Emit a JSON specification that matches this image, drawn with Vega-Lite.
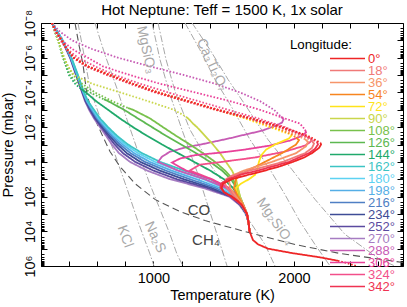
{
"$schema":"https://vega.github.io/schema/vega-lite/v6.json",
"width":362,"height":243,"autosize":"none",
"padding":{"left":41,"top":23,"right":4,"bottom":41},
"background":"white",
"title":{"text":"Hot Neptune: Teff = 1500 K, 1x solar","fontSize":15,"fontWeight":"normal","font":"Liberation Sans","anchor":"middle","offset":-9,"color":"black"},
"config":{"font":"Liberation Sans","view":{"stroke":"black","strokeWidth":1}},
"datasets":{
"prof":[
{"lon":"270°","k":"b","T":278,"P":1e-8},{"lon":"270°","k":"b","T":349,"P":1e-7},{"lon":"270°","k":"b","T":406,"P":1e-6},{"lon":"270°","k":"b","T":449,"P":1e-5},{"lon":"270°","k":"b","T":492,"P":1e-4},{"lon":"270°","k":"b","T":513,"P":3.16e-4},{"lon":"270°","k":"b","T":542,"P":1e-3},{"lon":"270°","k":"b","T":577,"P":3.16e-3},{"lon":"270°","k":"b","T":620,"P":0.01},{"lon":"270°","k":"b","T":663,"P":0.0316},{"lon":"270°","k":"b","T":705,"P":0.1},{"lon":"270°","k":"b","T":755,"P":0.316},{"lon":"270°","k":"b","T":833,"P":1},{"lon":"270°","k":"b","T":954,"P":3.16},{"lon":"270°","k":"b","T":1118,"P":10},{"lon":"270°","k":"b","T":1353,"P":31.6},{"lon":"270°","k":"b","T":1538,"P":100},{"lon":"270°","k":"b","T":1616,"P":316},{"lon":"270°","k":"b","T":1659,"P":1000},{"lon":"270°","k":"b","T":1677,"P":3160},{"lon":"270°","k":"b","T":1684,"P":10000},
{"lon":"252°","k":"b","T":278,"P":1e-8},{"lon":"252°","k":"b","T":351,"P":1e-7},{"lon":"252°","k":"b","T":409,"P":1e-6},{"lon":"252°","k":"b","T":451,"P":1e-5},{"lon":"252°","k":"b","T":494,"P":1e-4},{"lon":"252°","k":"b","T":517,"P":3.16e-4},{"lon":"252°","k":"b","T":548,"P":1e-3},{"lon":"252°","k":"b","T":584,"P":3.16e-3},{"lon":"252°","k":"b","T":630,"P":0.01},{"lon":"252°","k":"b","T":676,"P":0.0316},{"lon":"252°","k":"b","T":724,"P":0.1},{"lon":"252°","k":"b","T":783,"P":0.316},{"lon":"252°","k":"b","T":870,"P":1},{"lon":"252°","k":"b","T":999,"P":3.16},{"lon":"252°","k":"b","T":1166,"P":10},{"lon":"252°","k":"b","T":1383,"P":31.6},{"lon":"252°","k":"b","T":1549,"P":100},{"lon":"252°","k":"b","T":1620,"P":316},{"lon":"252°","k":"b","T":1660,"P":1000},{"lon":"252°","k":"b","T":1677,"P":3160},{"lon":"252°","k":"b","T":1684,"P":10000},
{"lon":"234°","k":"b","T":278,"P":1e-8},{"lon":"234°","k":"b","T":352,"P":1e-7},{"lon":"234°","k":"b","T":410,"P":1e-6},{"lon":"234°","k":"b","T":454,"P":1e-5},{"lon":"234°","k":"b","T":497,"P":1e-4},{"lon":"234°","k":"b","T":520,"P":3.16e-4},{"lon":"234°","k":"b","T":554,"P":1e-3},{"lon":"234°","k":"b","T":591,"P":3.16e-3},{"lon":"234°","k":"b","T":639,"P":0.01},{"lon":"234°","k":"b","T":689,"P":0.0316},{"lon":"234°","k":"b","T":744,"P":0.1},{"lon":"234°","k":"b","T":811,"P":0.316},{"lon":"234°","k":"b","T":906,"P":1},{"lon":"234°","k":"b","T":1044,"P":3.16},{"lon":"234°","k":"b","T":1215,"P":10},{"lon":"234°","k":"b","T":1413,"P":31.6},{"lon":"234°","k":"b","T":1560,"P":100},{"lon":"234°","k":"b","T":1623,"P":316},{"lon":"234°","k":"b","T":1661,"P":1000},{"lon":"234°","k":"b","T":1677,"P":3160},{"lon":"234°","k":"b","T":1684,"P":10000},
{"lon":"216°","k":"b","T":278,"P":1e-8},{"lon":"216°","k":"b","T":353,"P":1e-7},{"lon":"216°","k":"b","T":412,"P":1e-6},{"lon":"216°","k":"b","T":456,"P":1e-5},{"lon":"216°","k":"b","T":499,"P":1e-4},{"lon":"216°","k":"b","T":524,"P":3.16e-4},{"lon":"216°","k":"b","T":559,"P":1e-3},{"lon":"216°","k":"b","T":598,"P":3.16e-3},{"lon":"216°","k":"b","T":648,"P":0.01},{"lon":"216°","k":"b","T":702,"P":0.0316},{"lon":"216°","k":"b","T":762,"P":0.1},{"lon":"216°","k":"b","T":837,"P":0.316},{"lon":"216°","k":"b","T":940,"P":1},{"lon":"216°","k":"b","T":1086,"P":3.16},{"lon":"216°","k":"b","T":1260,"P":10},{"lon":"216°","k":"b","T":1442,"P":31.6},{"lon":"216°","k":"b","T":1570,"P":100},{"lon":"216°","k":"b","T":1627,"P":316},{"lon":"216°","k":"b","T":1662,"P":1000},{"lon":"216°","k":"b","T":1677,"P":3160},{"lon":"216°","k":"b","T":1684,"P":10000},
{"lon":"198°","k":"b","T":278,"P":1e-8},{"lon":"198°","k":"b","T":354,"P":1e-7},{"lon":"198°","k":"b","T":413,"P":1e-6},{"lon":"198°","k":"b","T":458,"P":1e-5},{"lon":"198°","k":"b","T":501,"P":1e-4},{"lon":"198°","k":"b","T":527,"P":3.16e-4},{"lon":"198°","k":"b","T":565,"P":1e-3},{"lon":"198°","k":"b","T":606,"P":3.16e-3},{"lon":"198°","k":"b","T":658,"P":0.01},{"lon":"198°","k":"b","T":714,"P":0.0316},{"lon":"198°","k":"b","T":781,"P":0.1},{"lon":"198°","k":"b","T":863,"P":0.316},{"lon":"198°","k":"b","T":974,"P":1},{"lon":"198°","k":"b","T":1128,"P":3.16},{"lon":"198°","k":"b","T":1306,"P":10},{"lon":"198°","k":"b","T":1470,"P":31.6},{"lon":"198°","k":"b","T":1580,"P":100},{"lon":"198°","k":"b","T":1630,"P":316},{"lon":"198°","k":"b","T":1664,"P":1000},{"lon":"198°","k":"b","T":1677,"P":3160},{"lon":"198°","k":"b","T":1684,"P":10000},
{"lon":"180°","k":"a","T":278,"P":1e-8},{"lon":"180°","k":"a","T":355,"P":1e-7},{"lon":"180°","k":"a","T":415,"P":1e-6},
{"lon":"180°","k":"b","T":415,"P":1e-6},{"lon":"180°","k":"b","T":461,"P":1e-5},{"lon":"180°","k":"b","T":504,"P":1e-4},{"lon":"180°","k":"b","T":531,"P":3.16e-4},{"lon":"180°","k":"b","T":571,"P":1e-3},{"lon":"180°","k":"b","T":613,"P":3.16e-3},{"lon":"180°","k":"b","T":667,"P":0.01},{"lon":"180°","k":"b","T":727,"P":0.0316},{"lon":"180°","k":"b","T":800,"P":0.1},{"lon":"180°","k":"b","T":891,"P":0.316},{"lon":"180°","k":"b","T":1011,"P":1},{"lon":"180°","k":"b","T":1173,"P":3.16},{"lon":"180°","k":"b","T":1354,"P":10},{"lon":"180°","k":"b","T":1501,"P":31.6},{"lon":"180°","k":"b","T":1591,"P":100},{"lon":"180°","k":"b","T":1634,"P":316},{"lon":"180°","k":"b","T":1664,"P":1000},{"lon":"180°","k":"b","T":1677,"P":3160},{"lon":"180°","k":"b","T":1684,"P":10000},
{"lon":"162°","k":"a","T":278,"P":1e-8},{"lon":"162°","k":"a","T":357,"P":1e-7},{"lon":"162°","k":"a","T":417,"P":1e-6},
{"lon":"162°","k":"b","T":417,"P":1e-6},{"lon":"162°","k":"b","T":463,"P":1e-5},{"lon":"162°","k":"b","T":506,"P":1e-4},{"lon":"162°","k":"b","T":534,"P":3.16e-4},{"lon":"162°","k":"b","T":577,"P":1e-3},{"lon":"162°","k":"b","T":620,"P":3.16e-3},{"lon":"162°","k":"b","T":677,"P":0.01},{"lon":"162°","k":"b","T":741,"P":0.0316},{"lon":"162°","k":"b","T":819,"P":0.1},{"lon":"162°","k":"b","T":919,"P":0.316},{"lon":"162°","k":"b","T":1047,"P":1},{"lon":"162°","k":"b","T":1218,"P":3.16},{"lon":"162°","k":"b","T":1403,"P":10},{"lon":"162°","k":"b","T":1531,"P":31.6},{"lon":"162°","k":"b","T":1602,"P":100},{"lon":"162°","k":"b","T":1637,"P":316},{"lon":"162°","k":"b","T":1666,"P":1000},{"lon":"162°","k":"b","T":1677,"P":3160},{"lon":"162°","k":"b","T":1684,"P":10000},
{"lon":"288°","k":"a","T":278,"P":1e-8},{"lon":"288°","k":"a","T":335,"P":3.16e-8},{"lon":"288°","k":"a","T":421,"P":1e-7},{"lon":"288°","k":"a","T":563,"P":3.16e-7},{"lon":"288°","k":"a","T":748,"P":1e-6},{"lon":"288°","k":"a","T":976,"P":3.16e-6},{"lon":"288°","k":"a","T":1218,"P":1e-5},{"lon":"288°","k":"a","T":1438,"P":3.16e-5},{"lon":"288°","k":"a","T":1616,"P":1e-4},{"lon":"288°","k":"a","T":1758,"P":3.16e-4},{"lon":"288°","k":"a","T":1858,"P":1e-3},{"lon":"288°","k":"a","T":1908,"P":2.5e-3},
{"lon":"288°","k":"b","T":1908,"P":2.5e-3},{"lon":"288°","k":"b","T":1926,"P":3.5e-3},{"lon":"288°","k":"b","T":1915,"P":5.5e-3},{"lon":"288°","k":"b","T":1872,"P":8.1e-3},{"lon":"288°","k":"b","T":1773,"P":0.016},{"lon":"288°","k":"b","T":1652,"P":0.027},{"lon":"288°","k":"b","T":1531,"P":0.046},{"lon":"288°","k":"b","T":1367,"P":0.089},{"lon":"288°","k":"b","T":1225,"P":0.15},{"lon":"288°","k":"b","T":1118,"P":0.26},{"lon":"288°","k":"b","T":1061,"P":0.5},{"lon":"288°","k":"b","T":1033,"P":1},{"lon":"288°","k":"b","T":1175,"P":3.16},{"lon":"288°","k":"b","T":1367,"P":10},{"lon":"288°","k":"b","T":1516,"P":31.6},{"lon":"288°","k":"b","T":1595,"P":100},{"lon":"288°","k":"b","T":1637,"P":316},{"lon":"288°","k":"b","T":1666,"P":1000},{"lon":"288°","k":"b","T":1677,"P":3160},{"lon":"288°","k":"b","T":1684,"P":10000},
{"lon":"144°","k":"a","T":278,"P":1e-8},{"lon":"144°","k":"a","T":321,"P":1e-7},{"lon":"144°","k":"a","T":357,"P":1e-6},{"lon":"144°","k":"a","T":399,"P":1e-5},{"lon":"144°","k":"a","T":442,"P":3.16e-5},{"lon":"144°","k":"a","T":485,"P":6.3e-5},
{"lon":"144°","k":"b","T":485,"P":6.3e-5},{"lon":"144°","k":"b","T":520,"P":1e-4},{"lon":"144°","k":"b","T":591,"P":3.16e-4},{"lon":"144°","k":"b","T":677,"P":1e-3},{"lon":"144°","k":"b","T":762,"P":3.16e-3},{"lon":"144°","k":"b","T":855,"P":0.01},{"lon":"144°","k":"b","T":954,"P":0.0316},{"lon":"144°","k":"b","T":1061,"P":0.1},{"lon":"144°","k":"b","T":1175,"P":0.316},{"lon":"144°","k":"b","T":1289,"P":1},{"lon":"144°","k":"b","T":1403,"P":3.16},{"lon":"144°","k":"b","T":1502,"P":10},{"lon":"144°","k":"b","T":1566,"P":31.6},{"lon":"144°","k":"b","T":1605,"P":100},{"lon":"144°","k":"b","T":1637,"P":316},{"lon":"144°","k":"b","T":1666,"P":1000},{"lon":"144°","k":"b","T":1677,"P":3160},{"lon":"144°","k":"b","T":1684,"P":10000},
{"lon":"126°","k":"a","T":278,"P":1e-8},{"lon":"126°","k":"a","T":321,"P":1e-7},{"lon":"126°","k":"a","T":357,"P":1e-6},{"lon":"126°","k":"a","T":406,"P":1e-5},{"lon":"126°","k":"a","T":463,"P":3.16e-5},{"lon":"126°","k":"a","T":549,"P":1e-4},{"lon":"126°","k":"a","T":648,"P":2.5e-4},
{"lon":"126°","k":"b","T":648,"P":2.5e-4},{"lon":"126°","k":"b","T":677,"P":3.16e-4},{"lon":"126°","k":"b","T":791,"P":1e-3},{"lon":"126°","k":"b","T":890,"P":3.16e-3},{"lon":"126°","k":"b","T":990,"P":0.01},{"lon":"126°","k":"b","T":1090,"P":0.0316},{"lon":"126°","k":"b","T":1196,"P":0.1},{"lon":"126°","k":"b","T":1303,"P":0.316},{"lon":"126°","k":"b","T":1403,"P":1},{"lon":"126°","k":"b","T":1488,"P":3.16},{"lon":"126°","k":"b","T":1552,"P":10},{"lon":"126°","k":"b","T":1591,"P":31.6},{"lon":"126°","k":"b","T":1612,"P":100},{"lon":"126°","k":"b","T":1641,"P":316},{"lon":"126°","k":"b","T":1666,"P":1000},{"lon":"126°","k":"b","T":1677,"P":3160},{"lon":"126°","k":"b","T":1684,"P":10000},
{"lon":"108°","k":"a","T":278,"P":1e-8},{"lon":"108°","k":"a","T":300,"P":3.16e-8},{"lon":"108°","k":"a","T":321,"P":1e-7},{"lon":"108°","k":"a","T":342,"P":3.16e-7},{"lon":"108°","k":"a","T":364,"P":1e-6},{"lon":"108°","k":"a","T":392,"P":3.16e-6},{"lon":"108°","k":"a","T":428,"P":1e-5},{"lon":"108°","k":"a","T":492,"P":3.16e-5},{"lon":"108°","k":"a","T":584,"P":1e-4},{"lon":"108°","k":"a","T":705,"P":3.16e-4},{"lon":"108°","k":"a","T":819,"P":7.9e-4},
{"lon":"108°","k":"b","T":819,"P":7.9e-4},{"lon":"108°","k":"b","T":855,"P":1e-3},{"lon":"108°","k":"b","T":905,"P":1.6e-3},{"lon":"108°","k":"b","T":976,"P":3.16e-3},{"lon":"108°","k":"b","T":1068,"P":0.01},{"lon":"108°","k":"b","T":1161,"P":0.0316},{"lon":"108°","k":"b","T":1260,"P":0.1},{"lon":"108°","k":"b","T":1353,"P":0.316},{"lon":"108°","k":"b","T":1438,"P":1},{"lon":"108°","k":"b","T":1509,"P":3.16},{"lon":"108°","k":"b","T":1566,"P":10},{"lon":"108°","k":"b","T":1598,"P":31.6},{"lon":"108°","k":"b","T":1616,"P":100},{"lon":"108°","k":"b","T":1641,"P":316},{"lon":"108°","k":"b","T":1666,"P":1000},{"lon":"108°","k":"b","T":1677,"P":3160},{"lon":"108°","k":"b","T":1684,"P":10000},
{"lon":"90°","k":"a","T":278,"P":1e-8},{"lon":"90°","k":"a","T":321,"P":1e-7},{"lon":"90°","k":"a","T":364,"P":1e-6},{"lon":"90°","k":"a","T":392,"P":3.16e-6},{"lon":"90°","k":"a","T":435,"P":1e-5},{"lon":"90°","k":"a","T":563,"P":3.16e-5},{"lon":"90°","k":"a","T":762,"P":1e-4},{"lon":"90°","k":"a","T":961,"P":3.16e-4},{"lon":"90°","k":"a","T":1146,"P":1e-3},{"lon":"90°","k":"a","T":1232,"P":2.5e-3},
{"lon":"90°","k":"b","T":1232,"P":2.5e-3},{"lon":"90°","k":"b","T":1260,"P":4e-3},{"lon":"90°","k":"b","T":1282,"P":6.3e-3},{"lon":"90°","k":"b","T":1310,"P":0.01},{"lon":"90°","k":"b","T":1367,"P":0.0316},{"lon":"90°","k":"b","T":1424,"P":0.1},{"lon":"90°","k":"b","T":1474,"P":0.316},{"lon":"90°","k":"b","T":1516,"P":1},{"lon":"90°","k":"b","T":1559,"P":3.16},{"lon":"90°","k":"b","T":1588,"P":10},{"lon":"90°","k":"b","T":1602,"P":31.6},{"lon":"90°","k":"b","T":1616,"P":100},{"lon":"90°","k":"b","T":1641,"P":316},{"lon":"90°","k":"b","T":1666,"P":1000},{"lon":"90°","k":"b","T":1677,"P":3160},{"lon":"90°","k":"b","T":1684,"P":10000},
{"lon":"324°","k":"a","T":278,"P":1e-8},{"lon":"324°","k":"a","T":300,"P":3.16e-8},{"lon":"324°","k":"a","T":335,"P":1e-7},{"lon":"324°","k":"a","T":385,"P":3.16e-7},{"lon":"324°","k":"a","T":463,"P":1e-6},{"lon":"324°","k":"a","T":584,"P":3.16e-6},{"lon":"324°","k":"a","T":727,"P":1e-5},{"lon":"324°","k":"a","T":905,"P":3.16e-5},{"lon":"324°","k":"a","T":1104,"P":1e-4},{"lon":"324°","k":"a","T":1317,"P":3.16e-4},{"lon":"324°","k":"a","T":1531,"P":1e-3},{"lon":"324°","k":"a","T":1744,"P":3.16e-3},{"lon":"324°","k":"a","T":1936,"P":0.01},{"lon":"324°","k":"a","T":2079,"P":0.0316},{"lon":"324°","k":"a","T":2121,"P":0.045},
{"lon":"324°","k":"b","T":2121,"P":0.045},{"lon":"324°","k":"b","T":2128,"P":0.056},{"lon":"324°","k":"b","T":2114,"P":0.074},{"lon":"324°","k":"b","T":2079,"P":0.115},{"lon":"324°","k":"b","T":1936,"P":0.257},{"lon":"324°","k":"b","T":1723,"P":0.56},{"lon":"324°","k":"b","T":1509,"P":0.95},{"lon":"324°","k":"b","T":1331,"P":1.45},{"lon":"324°","k":"b","T":1260,"P":3.16},{"lon":"324°","k":"b","T":1417,"P":10},{"lon":"324°","k":"b","T":1538,"P":31.6},{"lon":"324°","k":"b","T":1605,"P":100},{"lon":"324°","k":"b","T":1641,"P":316},{"lon":"324°","k":"b","T":1666,"P":1000},{"lon":"324°","k":"b","T":1677,"P":3160},{"lon":"324°","k":"b","T":1684,"P":10000},
{"lon":"306°","k":"a","T":278,"P":1e-8},{"lon":"306°","k":"a","T":307,"P":3.16e-8},{"lon":"306°","k":"a","T":349,"P":1e-7},{"lon":"306°","k":"a","T":421,"P":3.16e-7},{"lon":"306°","k":"a","T":534,"P":1e-6},{"lon":"306°","k":"a","T":641,"P":3.16e-6},{"lon":"306°","k":"a","T":833,"P":1e-5},{"lon":"306°","k":"a","T":1047,"P":3.16e-5},{"lon":"306°","k":"a","T":1296,"P":1e-4},{"lon":"306°","k":"a","T":1545,"P":3.16e-4},{"lon":"306°","k":"a","T":1758,"P":1e-3},{"lon":"306°","k":"a","T":1936,"P":3.16e-3},{"lon":"306°","k":"a","T":2043,"P":6.3e-3},{"lon":"306°","k":"a","T":2079,"P":0.014},
{"lon":"306°","k":"b","T":2079,"P":0.014},{"lon":"306°","k":"b","T":2086,"P":0.02},{"lon":"306°","k":"b","T":2057,"P":0.0316},{"lon":"306°","k":"b","T":1972,"P":0.059},{"lon":"306°","k":"b","T":1830,"P":0.115},{"lon":"306°","k":"b","T":1652,"P":0.195},{"lon":"306°","k":"b","T":1474,"P":0.295},{"lon":"306°","k":"b","T":1296,"P":0.41},{"lon":"306°","k":"b","T":1189,"P":0.65},{"lon":"306°","k":"b","T":1132,"P":1.1},{"lon":"306°","k":"b","T":1232,"P":3.16},{"lon":"306°","k":"b","T":1410,"P":10},{"lon":"306°","k":"b","T":1531,"P":31.6},{"lon":"306°","k":"b","T":1602,"P":100},{"lon":"306°","k":"b","T":1637,"P":316},{"lon":"306°","k":"b","T":1666,"P":1000},{"lon":"306°","k":"b","T":1677,"P":3160},{"lon":"306°","k":"b","T":1684,"P":10000},
{"lon":"72°","k":"a","T":278,"P":1e-8},{"lon":"72°","k":"a","T":307,"P":3.16e-8},{"lon":"72°","k":"a","T":349,"P":1e-7},{"lon":"72°","k":"a","T":385,"P":3.16e-7},{"lon":"72°","k":"a","T":435,"P":1e-6},{"lon":"72°","k":"a","T":534,"P":3.16e-6},{"lon":"72°","k":"a","T":691,"P":1e-5},{"lon":"72°","k":"a","T":855,"P":3.16e-5},{"lon":"72°","k":"a","T":1033,"P":1e-4},{"lon":"72°","k":"a","T":1246,"P":3.16e-4},{"lon":"72°","k":"a","T":1445,"P":1e-3},{"lon":"72°","k":"a","T":1652,"P":3.16e-3},{"lon":"72°","k":"a","T":1830,"P":0.01},{"lon":"72°","k":"a","T":1915,"P":0.018},{"lon":"72°","k":"a","T":1986,"P":0.028},
{"lon":"72°","k":"b","T":1986,"P":0.028},{"lon":"72°","k":"b","T":1965,"P":0.045},{"lon":"72°","k":"b","T":1922,"P":0.063},{"lon":"72°","k":"b","T":1865,"P":0.1},{"lon":"72°","k":"b","T":1801,"P":0.2},{"lon":"72°","k":"b","T":1769,"P":0.4},{"lon":"72°","k":"b","T":1751,"P":1},{"lon":"72°","k":"b","T":1737,"P":3.16},{"lon":"72°","k":"b","T":1723,"P":5.6},{"lon":"72°","k":"b","T":1680,"P":10},{"lon":"72°","k":"b","T":1623,"P":18},{"lon":"72°","k":"b","T":1588,"P":31.6},{"lon":"72°","k":"b","T":1602,"P":100},{"lon":"72°","k":"b","T":1637,"P":316},{"lon":"72°","k":"b","T":1666,"P":1000},{"lon":"72°","k":"b","T":1677,"P":3160},{"lon":"72°","k":"b","T":1684,"P":10000},
{"lon":"54°","k":"a","T":278,"P":1e-8},{"lon":"54°","k":"a","T":307,"P":3.16e-8},{"lon":"54°","k":"a","T":349,"P":1e-7},{"lon":"54°","k":"a","T":385,"P":3.16e-7},{"lon":"54°","k":"a","T":435,"P":1e-6},{"lon":"54°","k":"a","T":534,"P":3.16e-6},{"lon":"54°","k":"a","T":691,"P":1e-5},{"lon":"54°","k":"a","T":855,"P":3.16e-5},{"lon":"54°","k":"a","T":1033,"P":1e-4},{"lon":"54°","k":"a","T":1246,"P":3.16e-4},{"lon":"54°","k":"a","T":1452,"P":1e-3},{"lon":"54°","k":"a","T":1673,"P":3.16e-3},{"lon":"54°","k":"a","T":1858,"P":0.01},{"lon":"54°","k":"a","T":1979,"P":0.025},{"lon":"54°","k":"a","T":2015,"P":0.04},
{"lon":"54°","k":"b","T":2015,"P":0.04},{"lon":"54°","k":"b","T":2036,"P":0.056},{"lon":"54°","k":"b","T":2015,"P":0.1},{"lon":"54°","k":"b","T":1965,"P":0.178},{"lon":"54°","k":"b","T":1915,"P":0.316},{"lon":"54°","k":"b","T":1794,"P":1},{"lon":"54°","k":"b","T":1673,"P":3.16},{"lon":"54°","k":"b","T":1616,"P":5.6},{"lon":"54°","k":"b","T":1588,"P":10},{"lon":"54°","k":"b","T":1573,"P":31.6},{"lon":"54°","k":"b","T":1602,"P":100},{"lon":"54°","k":"b","T":1637,"P":316},{"lon":"54°","k":"b","T":1666,"P":1000},{"lon":"54°","k":"b","T":1677,"P":3160},{"lon":"54°","k":"b","T":1684,"P":10000},
{"lon":"36°","k":"a","T":278,"P":1e-8},{"lon":"36°","k":"a","T":307,"P":3.16e-8},{"lon":"36°","k":"a","T":349,"P":1e-7},{"lon":"36°","k":"a","T":385,"P":3.16e-7},{"lon":"36°","k":"a","T":435,"P":1e-6},{"lon":"36°","k":"a","T":534,"P":3.16e-6},{"lon":"36°","k":"a","T":691,"P":1e-5},{"lon":"36°","k":"a","T":855,"P":3.16e-5},{"lon":"36°","k":"a","T":1033,"P":1e-4},{"lon":"36°","k":"a","T":1246,"P":3.16e-4},{"lon":"36°","k":"a","T":1460,"P":1e-3},{"lon":"36°","k":"a","T":1687,"P":3.16e-3},{"lon":"36°","k":"a","T":1887,"P":0.01},{"lon":"36°","k":"a","T":2029,"P":0.0316},{"lon":"36°","k":"a","T":2079,"P":0.05},
{"lon":"36°","k":"b","T":2079,"P":0.05},{"lon":"36°","k":"b","T":2100,"P":0.071},{"lon":"36°","k":"b","T":2086,"P":0.126},{"lon":"36°","k":"b","T":2015,"P":0.316},{"lon":"36°","k":"b","T":1844,"P":1},{"lon":"36°","k":"b","T":1644,"P":3.16},{"lon":"36°","k":"b","T":1559,"P":6.3},{"lon":"36°","k":"b","T":1538,"P":10},{"lon":"36°","k":"b","T":1545,"P":31.6},{"lon":"36°","k":"b","T":1588,"P":100},{"lon":"36°","k":"b","T":1634,"P":316},{"lon":"36°","k":"b","T":1666,"P":1000},{"lon":"36°","k":"b","T":1677,"P":3160},{"lon":"36°","k":"b","T":1684,"P":10000},
{"lon":"18°","k":"a","T":278,"P":1e-8},{"lon":"18°","k":"a","T":307,"P":3.16e-8},{"lon":"18°","k":"a","T":349,"P":1e-7},{"lon":"18°","k":"a","T":385,"P":3.16e-7},{"lon":"18°","k":"a","T":435,"P":1e-6},{"lon":"18°","k":"a","T":534,"P":3.16e-6},{"lon":"18°","k":"a","T":691,"P":1e-5},{"lon":"18°","k":"a","T":855,"P":3.16e-5},{"lon":"18°","k":"a","T":1033,"P":1e-4},{"lon":"18°","k":"a","T":1246,"P":3.16e-4},{"lon":"18°","k":"a","T":1460,"P":1e-3},{"lon":"18°","k":"a","T":1701,"P":3.16e-3},{"lon":"18°","k":"a","T":1908,"P":0.01},{"lon":"18°","k":"a","T":2064,"P":0.0316},{"lon":"18°","k":"a","T":2128,"P":0.063},
{"lon":"18°","k":"b","T":2128,"P":0.063},{"lon":"18°","k":"b","T":2143,"P":0.089},{"lon":"18°","k":"b","T":2128,"P":0.158},{"lon":"18°","k":"b","T":2079,"P":0.316},{"lon":"18°","k":"b","T":1922,"P":1},{"lon":"18°","k":"b","T":1687,"P":3.16},{"lon":"18°","k":"b","T":1559,"P":6.3},{"lon":"18°","k":"b","T":1516,"P":10},{"lon":"18°","k":"b","T":1509,"P":18},{"lon":"18°","k":"b","T":1524,"P":31.6},{"lon":"18°","k":"b","T":1573,"P":100},{"lon":"18°","k":"b","T":1630,"P":316},{"lon":"18°","k":"b","T":1666,"P":1000},{"lon":"18°","k":"b","T":1677,"P":3160},{"lon":"18°","k":"b","T":1684,"P":10000},
{"lon":"342°","k":"a","T":278,"P":1e-8},{"lon":"342°","k":"a","T":307,"P":3.16e-8},{"lon":"342°","k":"a","T":346,"P":1e-7},{"lon":"342°","k":"a","T":381,"P":3.16e-7},{"lon":"342°","k":"a","T":428,"P":1e-6},{"lon":"342°","k":"a","T":520,"P":3.16e-6},{"lon":"342°","k":"a","T":670,"P":1e-5},{"lon":"342°","k":"a","T":833,"P":3.16e-5},{"lon":"342°","k":"a","T":1011,"P":1e-4},{"lon":"342°","k":"a","T":1225,"P":3.16e-4},{"lon":"342°","k":"a","T":1438,"P":1e-3},{"lon":"342°","k":"a","T":1680,"P":3.16e-3},{"lon":"342°","k":"a","T":1901,"P":0.01},{"lon":"342°","k":"a","T":2079,"P":0.0316},{"lon":"342°","k":"a","T":2164,"P":0.071},
{"lon":"342°","k":"b","T":2164,"P":0.071},{"lon":"342°","k":"b","T":2171,"P":0.1},{"lon":"342°","k":"b","T":2150,"P":0.178},{"lon":"342°","k":"b","T":2107,"P":0.316},{"lon":"342°","k":"b","T":1965,"P":1},{"lon":"342°","k":"b","T":1744,"P":3.16},{"lon":"342°","k":"b","T":1616,"P":5.6},{"lon":"342°","k":"b","T":1531,"P":10},{"lon":"342°","k":"b","T":1481,"P":18},{"lon":"342°","k":"b","T":1477,"P":31.6},{"lon":"342°","k":"b","T":1502,"P":56},{"lon":"342°","k":"b","T":1552,"P":100},{"lon":"342°","k":"b","T":1630,"P":316},{"lon":"342°","k":"b","T":1666,"P":1000},{"lon":"342°","k":"b","T":1677,"P":3160},{"lon":"342°","k":"b","T":1684,"P":10000},
{"lon":"0°","k":"a","T":278,"P":1e-8},{"lon":"0°","k":"a","T":307,"P":3.16e-8},{"lon":"0°","k":"a","T":349,"P":1e-7},{"lon":"0°","k":"a","T":385,"P":3.16e-7},{"lon":"0°","k":"a","T":435,"P":1e-6},{"lon":"0°","k":"a","T":534,"P":3.16e-6},{"lon":"0°","k":"a","T":691,"P":1e-5},{"lon":"0°","k":"a","T":855,"P":3.16e-5},{"lon":"0°","k":"a","T":1033,"P":1e-4},{"lon":"0°","k":"a","T":1246,"P":3.16e-4},{"lon":"0°","k":"a","T":1460,"P":1e-3},{"lon":"0°","k":"a","T":1701,"P":3.16e-3},{"lon":"0°","k":"a","T":1922,"P":0.01},{"lon":"0°","k":"a","T":2100,"P":0.0316},{"lon":"0°","k":"a","T":2189,"P":0.079},
{"lon":"0°","k":"b","T":2189,"P":0.079},{"lon":"0°","k":"b","T":2193,"P":0.1},{"lon":"0°","k":"b","T":2178,"P":0.158},{"lon":"0°","k":"b","T":2128,"P":0.316},{"lon":"0°","k":"b","T":2072,"P":0.56},{"lon":"0°","k":"b","T":1993,"P":1},{"lon":"0°","k":"b","T":1901,"P":1.8},{"lon":"0°","k":"b","T":1794,"P":3.16},{"lon":"0°","k":"b","T":1673,"P":5.6},{"lon":"0°","k":"b","T":1559,"P":10},{"lon":"0°","k":"b","T":1495,"P":18},{"lon":"0°","k":"b","T":1486,"P":31.6},{"lon":"0°","k":"b","T":1502,"P":56},{"lon":"0°","k":"b","T":1559,"P":100},{"lon":"0°","k":"b","T":1602,"P":180},{"lon":"0°","k":"b","T":1630,"P":316},{"lon":"0°","k":"b","T":1666,"P":1000},{"lon":"0°","k":"b","T":1677,"P":3160},{"lon":"0°","k":"b","T":1684,"P":10000},{"lon":"0°","k":"b","T":1708,"P":31600},{"lon":"0°","k":"b","T":1744,"P":56000},{"lon":"0°","k":"b","T":1815,"P":100000},{"lon":"0°","k":"b","T":1986,"P":180000},{"lon":"0°","k":"b","T":2185,"P":316000},{"lon":"0°","k":"b","T":2313,"P":500000},
{"lon":"0°","k":"c","T":2313,"P":500000},{"lon":"0°","k":"c","T":2385,"P":710000},{"lon":"0°","k":"c","T":2442,"P":1000000}
],
"gray":[
{"c":"KCl","T":463,"P":1e-8},{"c":"KCl","T":506,"P":6.7e-7},{"c":"KCl","T":549,"P":6.05e-5},{"c":"KCl","T":620,"P":2.83e-3},{"c":"KCl","T":712,"P":0.173},{"c":"KCl","T":812,"P":34.6},{"c":"KCl","T":890,"P":2750},{"c":"KCl","T":976,"P":210000},{"c":"KCl","T":1004,"P":1000000},
{"c":"Na2S","T":584,"P":1e-8},{"c":"Na2S","T":655,"P":6.7e-7},{"c":"Na2S","T":741,"P":6.05e-5},{"c":"Na2S","T":812,"P":3.7e-3},{"c":"Na2S","T":883,"P":0.173},{"c":"Na2S","T":976,"P":20},{"c":"Na2S","T":1118,"P":15000},{"c":"Na2S","T":1168,"P":210000},{"c":"Na2S","T":1210,"P":1000000},
{"c":"MgSiO3","T":990,"P":1e-8},{"c":"MgSiO3","T":1047,"P":1.3e-6},{"c":"MgSiO3","T":1118,"P":1.35e-4},{"c":"MgSiO3","T":1203,"P":0.0139},{"c":"MgSiO3","T":1310,"P":3.64},{"c":"MgSiO3","T":1424,"P":2750},{"c":"MgSiO3","T":1524,"P":1000000},
{"c":"Mg2SiO4","T":1033,"P":1e-8},{"c":"Mg2SiO4","T":1090,"P":1.3e-6},{"c":"Mg2SiO4","T":1161,"P":1.35e-4},{"c":"Mg2SiO4","T":1260,"P":0.0139},{"c":"Mg2SiO4","T":1403,"P":1.44},{"c":"Mg2SiO4","T":1559,"P":76.7},{"c":"Mg2SiO4","T":1687,"P":2750},{"c":"Mg2SiO4","T":1794,"P":58000},{"c":"Mg2SiO4","T":1865,"P":1000000},
{"c":"Ca","T":1225,"P":1e-8},{"c":"Ca","T":1331,"P":3.5e-7},{"c":"Ca","T":1438,"P":1.8e-5},{"c":"Ca","T":1559,"P":7.5e-4},{"c":"Ca","T":1687,"P":0.052},{"c":"Ca","T":1830,"P":2.79},{"c":"Ca","T":1936,"P":76.7},{"c":"Ca","T":2043,"P":2750},{"c":"Ca","T":2150,"P":58000},{"c":"Ca","T":2257,"P":1000000},
{"c":"Ca2","T":1275,"P":1e-8},{"c":"Ca2","T":1403,"P":3.5e-7},{"c":"Ca2","T":1531,"P":1.8e-5},{"c":"Ca2","T":1666,"P":7.5e-4},{"c":"Ca2","T":1815,"P":0.052},{"c":"Ca2","T":1986,"P":2.79},{"c":"Ca2","T":2150,"P":145},{"c":"Ca2","T":2363,"P":15000},{"c":"Ca2","T":2612,"P":420000},{"c":"Ca2","T":2719,"P":1000000}
],
"dash":[
{"c":"CO","T":442,"P":1e-8},{"c":"CO","T":470,"P":1.8e-7},{"c":"CO","T":499,"P":2.5e-6},{"c":"CO","T":527,"P":1.35e-4},{"c":"CO","T":570,"P":1.9e-3},{"c":"CO","T":634,"P":0.027},{"c":"CO","T":691,"P":0.256},{"c":"CO","T":762,"P":1.88},{"c":"CO","T":869,"P":17.9},{"c":"CO","T":1011,"P":145},{"c":"CO","T":1189,"P":731},{"c":"CO","T":1367,"P":2410},{"c":"CO","T":1652,"P":10400},{"c":"CO","T":2008,"P":58000},{"c":"CO","T":2328,"P":190000},{"c":"CO","T":2776,"P":630000}
]
},
"layer":[
{
"encoding":{
"x":{"field":"T","type":"quantitative","scale":{"domain":[200,2776],"nice":false,"zero":false},
"axis":{"orient":"bottom","values":[200,400,600,800,1000,1200,1400,1600,1800,2000,2200,2400,2600],"labelExpr":"datum.value==1000?'1000':datum.value==2000?'2000':''","tickSize":-5,"tickColor":"black","domain":false,"grid":false,"labelFontSize":14.5,"labelColor":"black","labelPadding":10,"labelFlush":false,"labelOverlap":false,"title":"Temperature (K)","titleFontSize":14.5,"titleFontWeight":"normal","titleColor":"black","titlePadding":4}},
"y":{"field":"P","type":"quantitative","scale":{"type":"log","domain":[1e-8,1e6],"reverse":true,"nice":false},
"axis":{"orient":"left","values":[1e-8,2e-8,3e-8,4e-8,5e-8,6e-8,7e-8,8e-8,9e-8,1e-7,2e-7,3e-7,4e-7,5e-7,6e-7,7e-7,8e-7,9e-7,1e-6,2e-6,3e-6,4e-6,5e-6,6e-6,7e-6,8e-6,9e-6,1e-5,2e-5,3e-5,4e-5,5e-5,6e-5,7e-5,8e-5,9e-5,1e-4,2e-4,3e-4,4e-4,5e-4,6e-4,7e-4,8e-4,9e-4,1e-3,2e-3,3e-3,4e-3,5e-3,6e-3,7e-3,8e-3,9e-3,0.01,0.02,0.03,0.04,0.05,0.06,0.07,0.08,0.09,0.1,0.2,0.3,0.4,0.5,0.6,0.7,0.8,0.9,1,2,3,4,5,6,7,8,9,10,20,30,40,50,60,70,80,90,100,200,300,400,500,600,700,800,900,1000,2000,3000,4000,5000,6000,7000,8000,9000,10000,20000,30000,40000,50000,60000,70000,80000,90000,100000,200000,300000,400000,500000,600000,700000,800000,900000,1000000],
"labelExpr":"datum.value==1e-8?'10⁻⁸':datum.value==1e-6?'10⁻⁶':datum.value==1e-4?'10⁻⁴':datum.value==0.01?'10⁻²':datum.value==1?'1':datum.value==100?'10²':datum.value==10000?'10⁴':datum.value==1000000?'10⁶':''",
"tickSize":{"condition":{"test":"abs(log(datum.value)/LN10-round(log(datum.value)/LN10))<0.001","value":-6},"value":-3},
"tickColor":"black","domain":false,"grid":false,"labelAngle":-90,"labelFontSize":14.5,"labelColor":"black","labelPadding":10,"labelFlush":false,"labelOverlap":false,"title":"Pressure (mbar)","titleFontSize":14.5,"titleFontWeight":"normal","titleColor":"black","titlePadding":4}}
},
"layer":[
{"data":{"name":"gray"},"mark":{"type":"line","color":"#a8a8a8","strokeWidth":1,"strokeDash":[7,2,1.5,2],"clip":true},"encoding":{"detail":{"field":"c"},"order":{"value":null}}},
{"data":{"name":"dash"},"mark":{"type":"line","color":"#555555","strokeWidth":1.1,"strokeDash":[7,4],"clip":true},"encoding":{"detail":{"field":"c"},"order":{"value":null}}},
{"data":{"name":"prof"},"mark":{"type":"line","strokeWidth":1.8,"clip":true},
"encoding":{
"color":{"field":"lon","type":"nominal","scale":{"domain":["0°","18°","36°","54°","72°","90°","108°","126°","144°","162°","180°","198°","216°","234°","252°","270°","288°","306°","324°","342°"],"range":["#ee2526","#f07a78","#f6956a","#f7851f","#ffe31a","#c9d64b","#78c14c","#5db851","#20a96b","#3cc4c4","#5dd2f2","#55aee6","#4f7fc4","#3e4c96","#5b4aa0","#a67cc2","#c75bb4","#e9429a","#f24f8a","#ef3352"]},
"legend":{"orient":"none","legendX":288,"legendY":30.7,"title":null,"symbolType":"stroke","symbolSize":1225,"symbolStrokeWidth":1.5,"labelFontSize":13,"labelOffset":2,"clipHeight":9.8,"rowPadding":-5.7,"padding":0,"encode":{"labels":{"update":{"fill":{"scale":"color","field":"value"}}}}}},
"detail":{"field":"k"},
"strokeDash":{"field":"k","type":"nominal","scale":{"domain":["a","b","c"],"range":[[1.6,1.8],[1,0],[1.6,1.8]]},"legend":null},
"order":{"value":null}}},
{"data":{"values":[{"t":"KCl","T":798,"P":20000}]},"mark":{"type":"text","angle":70,"fontSize":14,"color":"#a8a8a8"},"encoding":{"text":{"field":"t"}}},
{"data":{"values":[{"t":"Na₂S","T":1011,"P":22000}]},"mark":{"type":"text","angle":65,"fontSize":14,"color":"#a8a8a8"},"encoding":{"text":{"field":"t"}}},
{"data":{"values":[{"t":"MgSiO₃","T":947,"P":3.5e-7}]},"mark":{"type":"text","angle":78,"fontSize":14,"color":"#a8a8a8"},"encoding":{"text":{"field":"t"}}},
{"data":{"values":[{"t":"Ca₃Ti₂O₇","T":1417,"P":2.5e-6}]},"mark":{"type":"text","angle":65,"fontSize":14,"color":"#a8a8a8"},"encoding":{"text":{"field":"t"}}},
{"data":{"values":[{"t":"Mg₂SiO₄","T":1865,"P":2750}]},"mark":{"type":"text","angle":55,"fontSize":14,"color":"#a8a8a8"},"encoding":{"text":{"field":"t"}}},
{"data":{"values":[{"t":"CO","T":1324,"P":560},{"t":"CH₄","T":1374,"P":30000}]},"mark":{"type":"text","fontSize":15,"color":"#444444"},"encoding":{"text":{"field":"t"}}},
{"data":{"values":[{"t":"Longitude:","T":2192,"P":1.8e-7}]},"mark":{"type":"text","fontSize":13.3,"color":"black"},"encoding":{"text":{"field":"t"}}}
]
},
{
"data":{"values":[{"T":200,"P":1}]},
"mark":{"type":"point","opacity":0},
"encoding":{
"x":{"field":"T","type":"quantitative","scale":{"domain":[200,2776],"nice":false,"zero":false},"axis":{"orient":"top","values":[200,400,600,800,1000,1200,1400,1600,1800,2000,2200,2400,2600],"labels":false,"tickSize":-5,"tickColor":"black","domain":false,"grid":false,"title":null}},
"y":{"field":"P","type":"quantitative","scale":{"type":"log","domain":[1e-8,1e6],"reverse":true,"nice":false},"axis":{"orient":"right","values":[1e-8,2e-8,3e-8,4e-8,5e-8,6e-8,7e-8,8e-8,9e-8,1e-7,2e-7,3e-7,4e-7,5e-7,6e-7,7e-7,8e-7,9e-7,1e-6,2e-6,3e-6,4e-6,5e-6,6e-6,7e-6,8e-6,9e-6,1e-5,2e-5,3e-5,4e-5,5e-5,6e-5,7e-5,8e-5,9e-5,1e-4,2e-4,3e-4,4e-4,5e-4,6e-4,7e-4,8e-4,9e-4,1e-3,2e-3,3e-3,4e-3,5e-3,6e-3,7e-3,8e-3,9e-3,0.01,0.02,0.03,0.04,0.05,0.06,0.07,0.08,0.09,0.1,0.2,0.3,0.4,0.5,0.6,0.7,0.8,0.9,1,2,3,4,5,6,7,8,9,10,20,30,40,50,60,70,80,90,100,200,300,400,500,600,700,800,900,1000,2000,3000,4000,5000,6000,7000,8000,9000,10000,20000,30000,40000,50000,60000,70000,80000,90000,100000,200000,300000,400000,500000,600000,700000,800000,900000,1000000],"labels":false,"tickSize":{"condition":{"test":"abs(log(datum.value)/LN10-round(log(datum.value)/LN10))<0.001","value":-6},"value":-3},"tickColor":"black","domain":false,"grid":false,"title":null}}
}
}
],
"resolve":{"axis":{"x":"independent","y":"independent"}}
}
